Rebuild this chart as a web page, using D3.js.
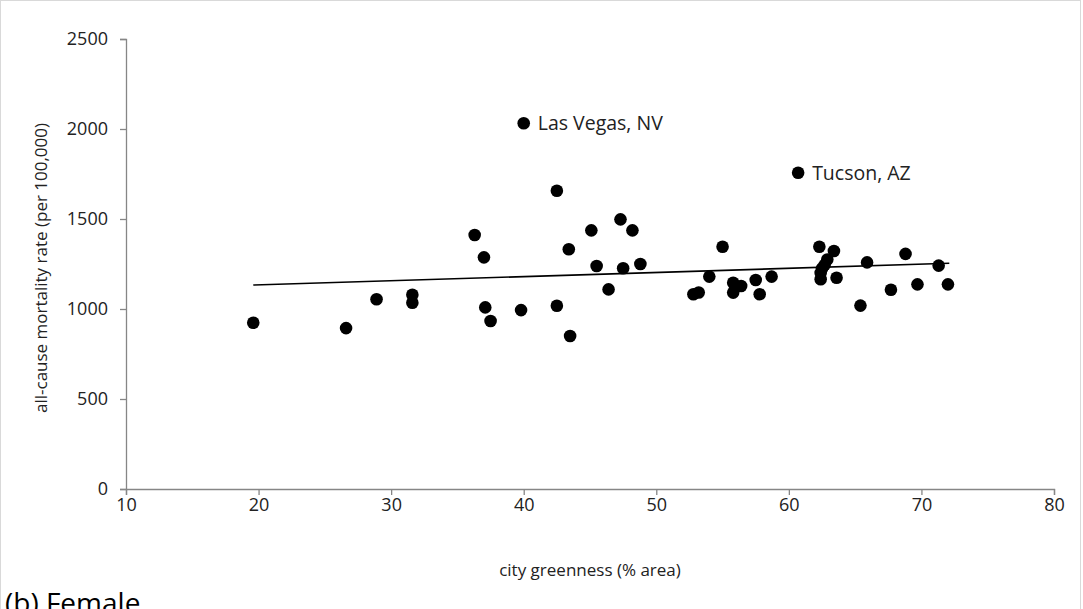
<!DOCTYPE html>
<html><head><meta charset="utf-8">
<script src="https://cdn.jsdelivr.net/npm/d3@7"></script>
<style>
html,body{margin:0;padding:0;background:#fff;}
svg text{font-family:"Open Sans","Noto Sans",sans-serif;}
</style></head>
<body>
<svg id="chart" width="1083" height="609"></svg>
<script>
// city greenness (% area)
const greenness = [19.6,26.6,28.9,31.6,31.6,36.3,37.0,37.1,37.5,39.8,40.0,42.5,43.4,42.5,43.5,45.1,45.5,46.4,47.3,47.5,48.2,48.8,52.8,53.2,54.0,55.0,55.8,55.8,56.4,57.5,57.8,58.7,60.7,62.3,62.4,62.4,62.5,62.7,62.9,63.4,63.6,65.9,65.4,68.8,67.7,69.7,71.3,72.0];
// all-cause mortality rate (per 100,000)
const mortality = [924,894,1054,1079,1035,1411,1287,1009,933,994,2032,1657,1332,1018,850,1437,1239,1109,1498,1226,1437,1250,1082,1092,1180,1346,1146,1091,1128,1161,1082,1180,1757,1346,1165,1200,1225,1245,1275,1322,1174,1259,1019,1306,1107,1137,1241,1137];
const labels = {10:"Las Vegas, NV",32:"Tucson, AZ"};
// fitted trend line endpoints
const trendX = [19.6,72.1];
const trendY = [1133,1254];
const xTicks = [10,20,30,40,50,60,70,80];
const yTicks = [0,500,1000,1500,2000,2500];

const svg = d3.select("#chart");
svg.append("rect").attr("x",0.5).attr("y",0.5).attr("width",1080).attr("height",620)
  .attr("fill","none").attr("stroke","#d9d9d9");

const x = d3.scaleLinear().domain([10,80]).range([126,1054]);
const y = d3.scaleLinear().domain([0,2500]).range([489,39]);

const axisColor = "#868686";
const gx = svg.append("g").attr("transform","translate(0,"+y(0)+")")
  .call(d3.axisBottom(x).tickValues(xTicks).tickSize(6).tickPadding(3).tickFormat(d3.format("d")));
const gy = svg.append("g").attr("transform","translate("+x(10)+",0)")
  .call(d3.axisLeft(y).tickValues(yTicks).tickSize(6).tickPadding(12).tickFormat(d3.format("d")));
[gx,gy].forEach(g=>{
  g.select(".domain").attr("stroke",axisColor).attr("stroke-width",1.3);
  g.selectAll(".tick line").attr("stroke",axisColor).attr("stroke-width",1.3);
  g.selectAll(".tick text").attr("fill","#222").attr("font-size",18)
    .style("font-family",'"Open Sans","Noto Sans",sans-serif');
});

// trend line
svg.append("line")
  .attr("x1",x(trendX[0])).attr("y1",y(trendY[0]))
  .attr("x2",x(trendX[1])).attr("y2",y(trendY[1]))
  .attr("stroke","#000").attr("stroke-width",1.6);

// points
const pts = greenness.map((g,i)=>({g, m:mortality[i], i}));
svg.append("g").selectAll("circle").data(pts).join("circle")
  .attr("cx",d=>x(d.g)).attr("cy",d=>y(d.m)).attr("r",6.3).attr("fill","#000");

// point labels
svg.append("g").selectAll("text").data(pts.filter(d=>labels[d.i])).join("text")
  .attr("x",d=>x(d.g)+14).attr("y",d=>y(d.m)+7)
  .attr("font-size",19.5).attr("fill","#222").text(d=>labels[d.i]);

// axis titles
svg.append("text").attr("x",590).attr("y",576).attr("text-anchor","middle")
  .attr("font-size",17).attr("fill","#222").text("city greenness (% area)");
svg.append("text").attr("transform","translate(47,268) rotate(-90)")
  .attr("text-anchor","middle").attr("font-size",17).attr("fill","#222")
  .text("all-cause mortality rate (per 100,000)");

// panel caption
svg.append("text").attr("x",5).attr("y",613).attr("font-size",28).attr("fill","#000")
  .text("(b) Female");
</script>
</body></html>
